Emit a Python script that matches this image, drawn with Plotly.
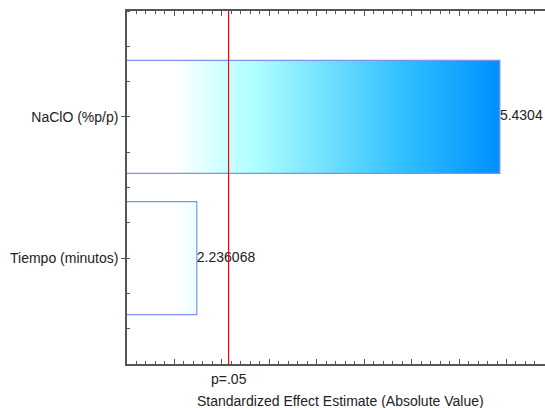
import plotly.graph_objects as go

# ---- data ----
categories = ["NaClO (%p/p)", "Tiempo (minutos)"]
effects = [5.4304, 2.236068]
effect_labels = ["5.4304", "2.236068"]
t_crit = 2.5706
p_label = "p=.05"
x_title = "Standardized Effect Estimate (Absolute Value)"

x_min, x_max_nominal = 1.5, 6.0
x_view_max = 5.906
half_h = 0.4

colorscale = [
    [0.0, "#ffffff"],
    [0.13, "#ffffff"],
    [0.34, "#aeffff"],
    [0.74, "#30c0ff"],
    [1.0, "#0090ff"],
]

FONT = "Liberation Sans, Arial, sans-serif"
TXT = "#222222"

fig = go.Figure()
for i, (cat, v) in enumerate(zip(categories, effects)):
    fig.add_trace(go.Scatter(
        x=[0, v, v, 0, 0],
        y=[i - half_h, i - half_h, i + half_h, i + half_h, i - half_h],
        mode="lines",
        fill="toself",
        fillgradient=dict(type="horizontal", colorscale=colorscale,
                          start=x_min, stop=max(effects)),
        line=dict(color="#8090f0", width=1.2),
        hoverinfo="skip",
        showlegend=False,
    ))

fig.add_trace(go.Scatter(
    x=effects, y=list(range(len(effects))), mode="text",
    text=effect_labels, textposition="middle right",
    textfont=dict(family=FONT, size=14, color=TXT),
    showlegend=False, hoverinfo="skip", cliponaxis=False,
))

fig.add_shape(type="line", x0=t_crit, x1=t_crit, xref="x", y0=0, y1=1, yref="y domain",
              line=dict(color="#ff0000", width=1.2))

fig.add_annotation(x=t_crit, xref="x", y=0, yref="paper", yanchor="top", yshift=-5,
                   text=p_label, showarrow=False,
                   font=dict(family=FONT, size=14, color=TXT))
fig.add_annotation(x=(x_min + x_max_nominal) / 2, xref="x", y=0, yref="paper", yanchor="top",
                   yshift=-27, text=x_title, showarrow=False,
                   font=dict(family=FONT, size=14, color=TXT))

fig.update_layout(
    width=545, height=408,
    margin=dict(l=127, r=0, t=11, b=44),
    paper_bgcolor="white", plot_bgcolor="white",
    font=dict(family=FONT, size=14, color=TXT),
    xaxis=dict(
        range=[x_min, x_view_max], showgrid=False, zeroline=False,
        showline=True, linecolor="#555555", linewidth=1.5, mirror="ticks",
        tick0=x_min, dtick=0.5, ticks="inside", ticklen=5, tickcolor="#555555",
        showticklabels=False,
        minor=dict(dtick=0.1, tick0=x_min, ticks="inside", ticklen=3, tickcolor="#555555"),
    ),
    yaxis=dict(
        range=[1.75, -0.75], showgrid=False, zeroline=False,
        showline=True, linecolor="#555555", linewidth=1.5,
        tickvals=list(range(len(categories))), ticktext=categories,
        ticks="outside", ticklen=4, tickcolor="#555555",
        minor=dict(dtick=0.25, tick0=-0.75, ticks="inside", ticklen=3, tickcolor="#555555"),
    ),
)

fig.write_html(
    "out.html",
    config={"displayModeBar": False},
    post_script="document.body.style.margin='0';document.body.style.overflow='hidden';",
)
